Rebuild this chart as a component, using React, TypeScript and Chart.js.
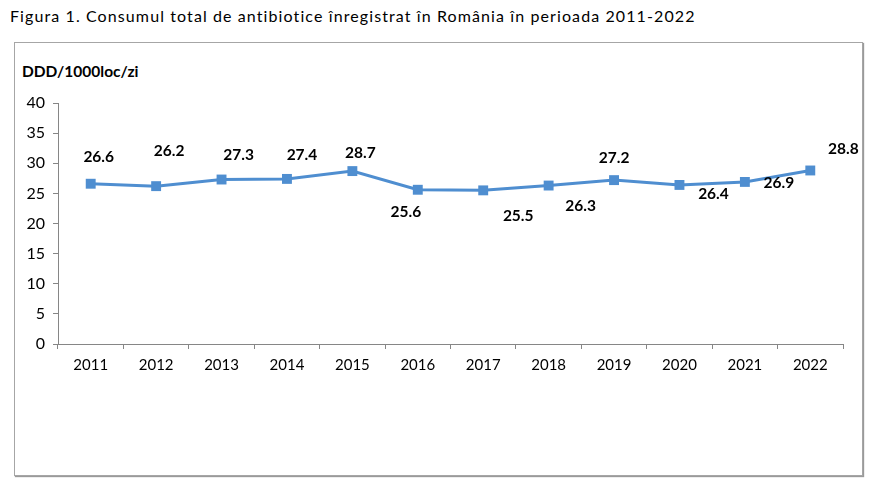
import React, { useEffect, useRef } from "react";
import { Chart, registerables } from "chart.js";

Chart.register(...registerables);

const years = ["2011", "2012", "2013", "2014", "2015", "2016", "2017", "2018", "2019", "2020", "2021", "2022"];
const consumption = [26.6, 26.2, 27.3, 27.4, 28.7, 25.6, 25.5, 26.3, 27.2, 26.4, 26.9, 28.8];
const labelOffsets: [number, number][] = [
  [8, -27], [13, -35], [17, -25], [15, -24], [8, -18], [-12, 22],
  [35, 26], [32, 20], [0, -22], [34, 9], [34, 1], [33, -21],
];
const yMin = 0;
const yMax = 40;
const yStep = 5;

const FONT = "Lato, 'Open Sans', sans-serif";
const LINE = "#4F8ED0";
const AXIS = "#868686";

const valueLabels = {
  id: "valueLabels",
  afterDatasetsDraw(chart: any) {
    const ctx = chart.ctx;
    const meta = chart.getDatasetMeta(0);
    ctx.save();
    ctx.font = `bold 15.5px ${FONT}`;
    ctx.fillStyle = "#000";
    ctx.textAlign = "center";
    ctx.textBaseline = "middle";
    meta.data.forEach((pt: any, i: number) => {
      const [dx, dy] = labelOffsets[i];
      ctx.fillText(consumption[i].toFixed(1), pt.x + dx, pt.y + dy);
    });
    ctx.restore();
  },
};

export default function App() {
  const ref = useRef<HTMLCanvasElement>(null);
  useEffect(() => {
    if (!ref.current) return;
    const chart = new Chart(ref.current, {
      type: "line",
      data: {
        labels: years,
        datasets: [
          {
            data: consumption,
            borderColor: LINE,
            backgroundColor: LINE,
            borderWidth: 3,
            pointStyle: "rect",
            pointRadius: 7,
            pointBorderWidth: 0,
            pointBackgroundColor: LINE,
            tension: 0,
          },
        ],
      },
      options: {
        responsive: false,
        animation: false,
        layout: { padding: { top: 103, right: 39, bottom: 0, left: 0 } },
        plugins: { legend: { display: false }, tooltip: { enabled: false }, title: { display: false } },
        scales: {
          x: {
            offset: true,
            grid: { offset: true, drawOnChartArea: false, drawTicks: true, tickLength: 5, color: AXIS },
            border: { display: true, color: AXIS, width: 1 },
            ticks: { color: "#000", font: { family: FONT, size: 15 }, padding: 7, maxRotation: 0 },
            afterFit: (s: any) => { s.height = 158; },
          },
          y: {
            min: yMin,
            max: yMax,
            grid: { drawOnChartArea: false, drawTicks: true, tickLength: 5, color: AXIS },
            border: { display: true, color: AXIS, width: 1 },
            ticks: { stepSize: yStep, color: "#000", font: { family: FONT, size: 16 }, padding: 8 },
            afterFit: (s: any) => { s.width = 58; },
          },
        },
      },
      plugins: [valueLabels],
    });
    return () => chart.destroy();
  }, []);

  return (
    <div style={{ position: "absolute", left: 0, top: 0, width: 882, height: 502, background: "#fff", fontFamily: FONT }}>
      <div style={{ position: "absolute", left: 10, top: 6, fontSize: 16, color: "#000", whiteSpace: "nowrap", letterSpacing: 1.1 }}>
        Figura 1. Consumul total de antibiotice înregistrat în România în perioada 2011-2022
      </div>
      <div
        style={{
          position: "absolute",
          left: 14,
          top: 42,
          width: 847,
          height: 432,
          border: "1px solid #a6a6a6",
          boxShadow: "1px 1px 1px #9a9a9a",
        }}
      />
      <div style={{ position: "absolute", left: 22, top: 62, fontSize: 15.5, fontWeight: "bold", color: "#000", whiteSpace: "nowrap" }}>
        DDD/1000loc/zi
      </div>
      <canvas ref={ref} width={882} height={502} style={{ position: "absolute", left: 0, top: 0 }} />
    </div>
  );
}
